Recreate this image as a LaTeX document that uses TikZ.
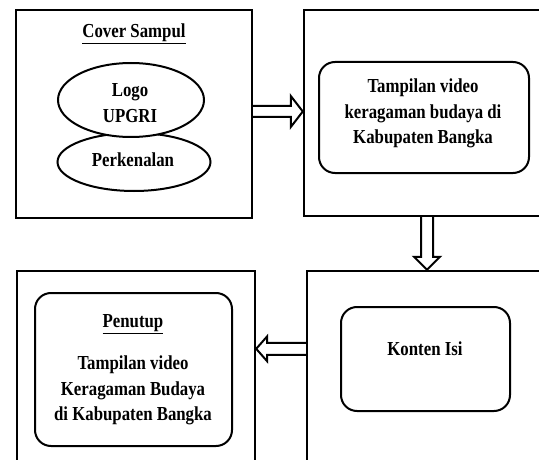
\documentclass[tikz,border=0pt]{standalone}
\usepackage{graphicx}
\usepackage{fontspec}
\setmainfont{Liberation Serif}
\usetikzlibrary{shapes.geometric,calc}
\newcommand\vtxt[1]{\scalebox{1}[1.18]{\fontsize{16.8}{21.2}\selectfont\bfseries\renewcommand\arraystretch{1}\begin{tabular}{@{}c@{}}#1\end{tabular}}}
\begin{document}
\begin{tikzpicture}[x=1pt,y=-1pt,
  frame/.style={draw, line width=2.4pt, rectangle, inner sep=0pt},
  rbox/.style={draw, line width=2pt, rounded corners=16pt, rectangle, inner sep=0pt},
  oval/.style={draw, ellipse, line width=2pt, fill=white, inner sep=0pt},
  blk/.style={line width=2pt, line join=miter},
  lbl/.style={inner sep=0pt}]
\path[use as bounding box, clip] (0,0) rectangle (539,460);
\node[frame, minimum width=236pt, minimum height=208pt] (c1) at (134,114) {};
\node[frame, minimum width=246pt, minimum height=206pt] (c2) at (427,113) {};
\node[frame, minimum width=238pt, minimum height=209pt] (c3) at (136,375.5) {};
\node[frame, minimum width=246pt, minimum height=209pt] (c4) at (430,375.5) {};
% cover
\node[lbl] (t1) at (134,32) {\vtxt{\underline{Cover Sampul}}};
\node[oval, minimum width=153pt, minimum height=58pt] (e2) at (134,162) {};
\node[oval, minimum width=146pt, minimum height=74pt] (e1) at (131,100) {};
\node[lbl] (t2) at (130,104.5) {\vtxt{Logo\\UPGRI}};
\node[lbl] (t3) at (133,161) {\vtxt{Perkenalan}};
% video
\node[rbox, minimum width=210pt, minimum height=111pt] (r2) at (424,117.5) {};
\node[lbl] (t4) at (423,113) {\vtxt{Tampilan video\\keragaman budaya di\\Kabupaten Bangka}};
% konten
\node[rbox, minimum width=169pt, minimum height=104pt] (r4) at (425.5,359) {};
\node[lbl] (t5) at (425,350) {\vtxt{Konten Isi}};
% penutup
\node[rbox, minimum width=197pt, minimum height=153pt] (r3) at (133.5,369.5) {};
\node[lbl] (t6) at (133,322) {\vtxt{\underline{Penutup}}};
\node[lbl] (t7) at (133,390) {\vtxt{Tampilan video\\Keragaman Budaya\\di Kabupaten Bangka}};
% arrows
\coordinate (a1) at ($(c1.east)+(0,-2.5)$);
\coordinate (b1) at (c2.west |- a1);
\draw[blk] ($(a1)+(0,-5.5)$) -- ($(b1)+(-12,-5.5)$) -- ($(b1)+(-12,-15.5)$) -- (b1)
  -- ($(b1)+(-12,15.5)$) -- ($(b1)+(-12,5.5)$) -- ($(a1)+(0,5.5)$);
\coordinate (a2) at (c2.south);
\coordinate (b2) at (c2.south |- c4.north);
\draw[blk] ($(a2)+(-6,0)$) -- ($(b2)+(-6,-13)$) -- ($(b2)+(-13,-13)$) -- (b2)
  -- ($(b2)+(13,-13)$) -- ($(b2)+(6,-13)$) -- ($(a2)+(6,0)$);
\coordinate (a3) at ($(c4.north west)+(0,79)$);
\coordinate (b3) at (c3.east |- a3);
\draw[blk] ($(a3)+(0,-6)$) -- ($(b3)+(11,-6)$) -- ($(b3)+(11,-12.5)$) -- (b3)
  -- ($(b3)+(11,12.5)$) -- ($(b3)+(11,6)$) -- ($(a3)+(0,6)$);
\end{tikzpicture}
\end{document}
